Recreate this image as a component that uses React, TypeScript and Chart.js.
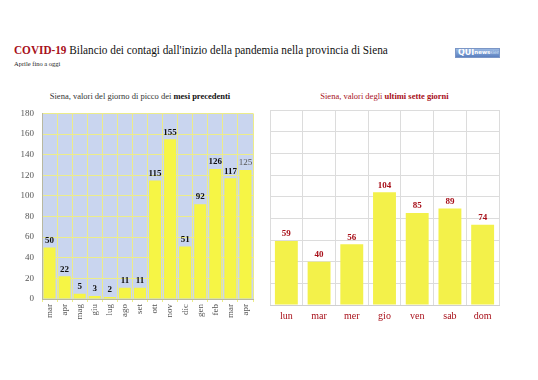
import React, { useEffect, useRef } from "react";
import { Chart, registerables } from "chart.js";

Chart.register(...registerables);

const monthLabels = ["mar", "apr", "mag", "giu", "lug", "ago", "set", "ott", "nov", "dic", "gen", "feb", "mar", "apr"];
const monthValues = [50, 22, 5, 3, 2, 11, 11, 115, 155, 51, 92, 126, 117, 125];
const dayLabels = ["lun", "mar", "mer", "gio", "ven", "sab", "dom"];
const dayValues = [59, 40, 56, 104, 85, 89, 74];
const yMin = 0;
const yMax = 180;
const yStep = 20;

const SERIF = "'Liberation Serif', 'DejaVu Serif', serif";
const DARKRED = "#a8101a";

function makeLabelPlugin(color: string, lastColor?: string) {
  return {
    id: "valueLabels",
    afterDatasetsDraw(chart: any) {
      const ctx = chart.ctx;
      const meta = chart.getDatasetMeta(0);
      const data = chart.data.datasets[0].data as number[];
      ctx.save();
      ctx.textAlign = "center";
      ctx.textBaseline = "middle";
      meta.data.forEach((bar: any, i: number) => {
        const isLast = lastColor && i === data.length - 1;
        ctx.font = (isLast ? "normal " : "bold ") + "9px " + SERIF;
        ctx.fillStyle = isLast ? lastColor : color;
        ctx.fillText(String(data[i]), bar.x, bar.y - 7);
      });
      ctx.restore();
    },
  };
}

const bgPlugin = {
  id: "plotBg",
  beforeDraw(chart: any) {
    const { ctx, chartArea } = chart;
    ctx.save();
    ctx.fillStyle = "#c9d5ef";
    ctx.fillRect(chartArea.left, chartArea.top, chartArea.right - chartArea.left, chartArea.bottom - chartArea.top);
    ctx.restore();
  },
};

function LeftChart() {
  const ref = useRef<HTMLCanvasElement>(null);
  useEffect(() => {
    const chart = new Chart(ref.current!, {
      type: "bar",
      data: {
        labels: monthLabels,
        datasets: [
          {
            data: monthValues,
            backgroundColor: "#f6f545",
            borderWidth: 0,
            barPercentage: 0.8,
            categoryPercentage: 1,
          },
        ],
      },
      options: {
        animation: false,
        responsive: false,
        maintainAspectRatio: false,
        layout: { padding: { top: 11, right: 12, left: 0, bottom: 0 } },
        plugins: { legend: { display: false }, tooltip: { enabled: false } },
        scales: {
          x: {
            afterFit: (s: any) => {
              s.height = 61;
            },
            grid: { color: "#ecec8a", offset: true, tickLength: 3 },
            border: { color: "#b8b8a0" },
            ticks: {
              color: "#555",
              font: { family: SERIF, size: 9 },
              minRotation: 90,
              maxRotation: 90,
              padding: 2,
              autoSkip: false,
            },
          },
          y: {
            min: yMin,
            max: yMax,
            afterFit: (s: any) => {
              s.width = 42;
            },
            grid: { color: "#ecec8a", drawTicks: false },
            border: { color: "#b8b8a0" },
            ticks: {
              stepSize: yStep,
              color: "#555",
              font: { family: SERIF, size: 9 },
              padding: 8,
            },
          },
        },
      },
      plugins: [bgPlugin, makeLabelPlugin("#111", "#555")],
    } as any);
    return () => chart.destroy();
  }, []);
  return <canvas ref={ref} width={265} height={260} style={{ position: "absolute", left: 0, top: 100, width: 265, height: 260 }} />;
}

function RightChart() {
  const ref = useRef<HTMLCanvasElement>(null);
  useEffect(() => {
    const chart = new Chart(ref.current!, {
      type: "bar",
      data: {
        labels: dayLabels,
        datasets: [
          {
            data: dayValues,
            backgroundColor: "#f3f14a",
            borderWidth: 0,
            barPercentage: 0.7,
            categoryPercentage: 1,
          },
        ],
      },
      options: {
        animation: false,
        responsive: false,
        maintainAspectRatio: false,
        layout: { padding: { top: 10, right: 39, left: 5, bottom: 0 } },
        plugins: { legend: { display: false }, tooltip: { enabled: false } },
        scales: {
          x: {
            afterFit: (s: any) => {
              s.height = 55;
            },
            grid: { color: "#dcdcdc", offset: true, drawTicks: false },
            border: { color: "#cfcfcf" },
            ticks: {
              color: DARKRED,
              font: { family: SERIF, size: 10 },
              padding: 5,
            },
          },
          y: {
            min: yMin,
            max: yMax,
            afterFit: (s: any) => {
              s.width = 0;
            },
            grid: { color: "#dcdcdc", drawTicks: false },
            border: { display: false },
            ticks: { stepSize: yStep, display: false },
          },
        },
      },
      plugins: [makeLabelPlugin(DARKRED)],
    } as any);
    return () => chart.destroy();
  }, []);
  return <canvas ref={ref} width={273} height={260} style={{ position: "absolute", left: 265, top: 100, width: 273, height: 260 }} />;
}

export default function App() {
  return (
    <div style={{ position: "fixed", left: 0, top: 0, width: 538, height: 380, background: "#fff", fontFamily: SERIF, overflow: "hidden" }}>
      <div
        style={{
          position: "absolute",
          left: 14,
          top: 43,
          fontSize: 12.5,
          whiteSpace: "nowrap",
          color: "#111",
          transform: "scaleX(0.9)",
          transformOrigin: "left top",
        }}
      >
        <span style={{ color: DARKRED, fontWeight: "bold" }}>COVID-19</span> Bilancio dei contagi dall'inizio della pandemia nella provincia di Siena
      </div>
      <div style={{ position: "absolute", left: 14, top: 60, fontSize: 6.5, whiteSpace: "nowrap", color: "#222" }}>Aprile fino a oggi</div>
      <div
        style={{
          position: "absolute",
          left: 455,
          top: 48,
          width: 45,
          height: 10,
          background: "linear-gradient(#9ab8e2, #5b80c0)",
          border: "1px solid #7b96c6",
          boxSizing: "border-box",
          color: "#fff",
          fontFamily: "'DejaVu Sans', sans-serif",
          fontWeight: "bold",
          whiteSpace: "nowrap",
          display: "flex",
          alignItems: "center",
          lineHeight: 1,
          paddingLeft: 2,
          overflow: "hidden",
        }}
      >
        <span style={{ fontSize: 8 }}>QUI</span>
        <span style={{ fontSize: 5.5 }}>news</span>
        <span style={{ fontSize: 4.5, color: "#d8e6f8", fontWeight: "normal" }}>siena</span>
      </div>
      <div style={{ position: "absolute", left: 0, width: 280, top: 91, textAlign: "center", fontSize: 8.5, color: "#333", whiteSpace: "nowrap" }}>
        Siena, valori del giorno di picco dei <b style={{ color: "#111" }}>mesi precedenti</b>
      </div>
      <div style={{ position: "absolute", left: 270, width: 229, top: 91, textAlign: "center", fontSize: 8.5, color: DARKRED, whiteSpace: "nowrap" }}>
        Siena, valori degli <b>ultimi sette giorni</b>
      </div>
      <LeftChart />
      <RightChart />
    </div>
  );
}
